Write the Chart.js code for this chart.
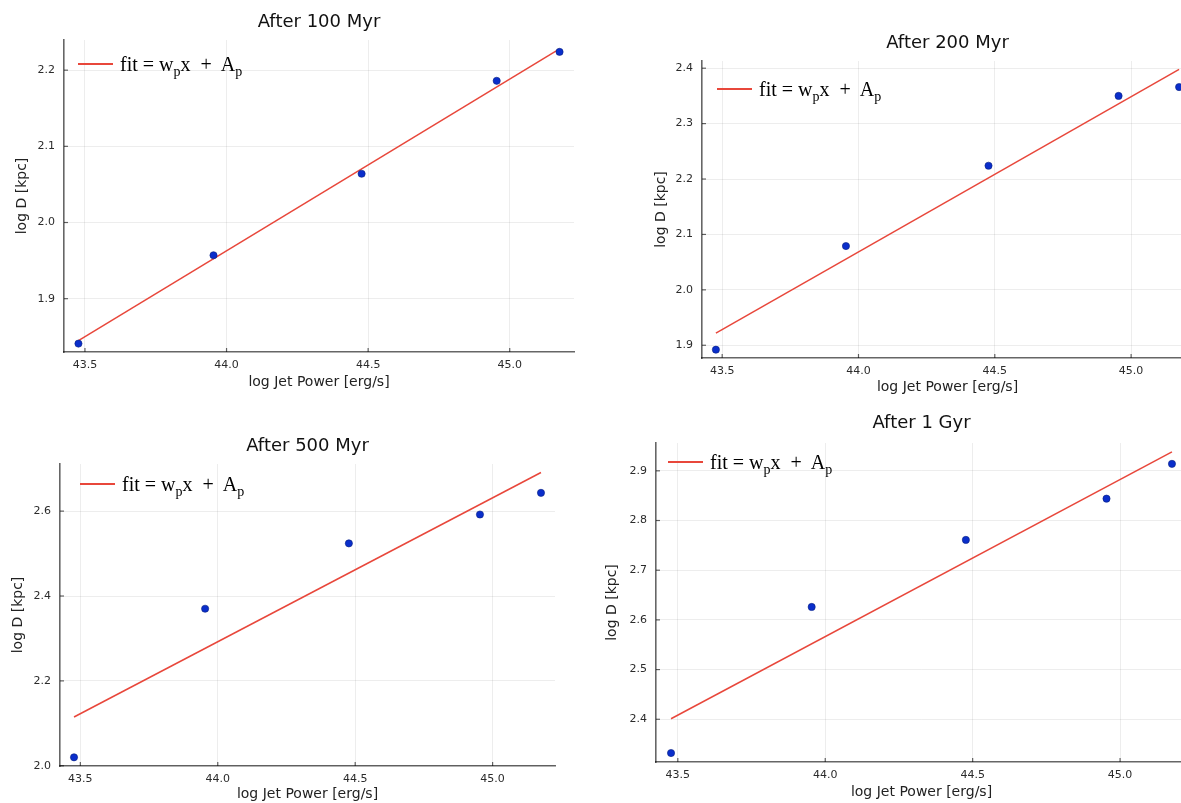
<!DOCTYPE html>
<html><head><meta charset="utf-8">
<script src="https://cdn.jsdelivr.net/npm/chart.js@4/dist/chart.umd.min.js"></script>
<style>
html,body{margin:0;padding:0;background:#fff;width:1181px;height:803px;overflow:hidden;position:relative}
canvas{position:absolute}
.leg{position:absolute;display:flex;align-items:center;transform:translateY(-50%);font-family:'Liberation Serif','Times New Roman',serif;font-size:20px;color:#000;white-space:pre;line-height:1}
.leg .ln{display:inline-block;width:35px;height:2px;background:#e8473b;margin-right:7px}
.leg sub{font-size:14px;vertical-align:-5px;line-height:0}
</style></head><body>
<canvas id="c0" width="640" height="400" style="left:0;top:0"></canvas>
<canvas id="c1" width="560" height="380" style="left:640px;top:20px"></canvas>
<canvas id="c2" width="640" height="383" style="left:0;top:420px"></canvas>
<canvas id="c3" width="600" height="403" style="left:600px;top:400px"></canvas>
<div class="leg" style="left:78px;top:64px"><span class="ln"></span><span>fit = w<sub>p</sub>x  +  A<sub>p</sub></span></div>
<div class="leg" style="left:717px;top:89px"><span class="ln"></span><span>fit = w<sub>p</sub>x  +  A<sub>p</sub></span></div>
<div class="leg" style="left:80px;top:484px"><span class="ln"></span><span>fit = w<sub>p</sub>x  +  A<sub>p</sub></span></div>
<div class="leg" style="left:668px;top:462px"><span class="ln"></span><span>fit = w<sub>p</sub>x  +  A<sub>p</sub></span></div>
<script>
// ---- data ----
const jetPower = [43.477, 43.954, 44.477, 44.954, 45.176];
const xTicks = [43.5, 44.0, 44.5, 45.0];
const titles = ['After 100 Myr', 'After 200 Myr', 'After 500 Myr', 'After 1 Gyr'];
const xLabel = 'log Jet Power [erg/s]';
const yLabel = 'log D [kpc]';

const dist100 = [1.841, 1.957, 2.064, 2.186, 2.224];
const dist200 = [1.892, 2.079, 2.224, 2.350, 2.366];
const dist500 = [2.020, 2.370, 2.524, 2.592, 2.643];
const dist1000 = [2.332, 2.626, 2.761, 2.844, 2.914];

// fit line values at the first and last jet power
const fit100 = [1.845, 2.228];
const fit200 = [1.922, 2.398];
const fit500 = [2.115, 2.691];
const fit1000 = [2.401, 2.938];

const yTicks100 = [1.9, 2.0, 2.1, 2.2];
const yTicks200 = [1.9, 2.0, 2.1, 2.2, 2.3, 2.4];
const yTicks500 = [2.0, 2.2, 2.4, 2.6];
const yTicks1000 = [2.4, 2.5, 2.6, 2.7, 2.8, 2.9];

const xRange = [43.426, 45.227];
const yRange100 = [1.830, 2.2396];
const yRange200 = [1.877, 2.413];
const yRange500 = [1.9995, 2.711];
const yRange1000 = [2.314, 2.956];

// ---- styles / layout ----
const AXIS = 'rgba(0,0,0,0.6)';
const GRID = 'rgba(0,0,0,0.07)';
const POINT = '#0a2ecb';
const LINE = '#e8473b';
const FONT = "'DejaVu Sans', sans-serif";

const panels = [
  {id:'c0', d:dist100, f:fit100, yt:yTicks100, yr:yRange100, yW:64, xH:48, padR:66, tPad:[11.2,7.2], xtB:9.6, ytT:14.2},
  {id:'c1', d:dist200, f:fit200, yt:yTicks200, yr:yRange200, yW:62, xH:42, padR:7, tPad:[12.2,7.2], xtB:4.6, ytT:13.1},
  {id:'c2', d:dist500, f:fit500, yt:yTicks500, yr:yRange500, yW:60, xH:37, padR:85, tPad:[15.2,7.2], xtB:0, ytT:10.2},
  {id:'c3', d:dist1000, f:fit1000, yt:yTicks1000, yr:yRange1000, yW:56, xH:41, padR:13, tPad:[12.2,9.2], xtB:2.6, ytT:3.6}
];

const inwardTicks = {
  id: 'inwardTicks',
  afterDraw(chart) {
    const ctx = chart.ctx, a = chart.chartArea;
    const xs = chart.scales.x, ys = chart.scales.y;
    ctx.save();
    ctx.strokeStyle = AXIS; ctx.lineWidth = 1.2;
    xs.ticks.forEach(t => { const p = xs.getPixelForValue(t.value); ctx.beginPath(); ctx.moveTo(p, a.bottom); ctx.lineTo(p, a.bottom - 4); ctx.stroke(); });
    ys.ticks.forEach(t => { const p = ys.getPixelForValue(t.value); ctx.beginPath(); ctx.moveTo(a.left, p); ctx.lineTo(a.left + 4, p); ctx.stroke(); });
    ctx.restore();
  }
};

panels.forEach((p, i) => {
  const pts = jetPower.map((x, k) => ({x: x, y: p.d[k]}));
  const fitPts = [{x: jetPower[0], y: p.f[0]}, {x: jetPower[jetPower.length - 1], y: p.f[1]}];
  new Chart(document.getElementById(p.id), {
    type: 'scatter',
    data: {datasets: [
      {label: 'data', data: pts, pointRadius: 3.6, pointBackgroundColor: POINT, pointBorderColor: '#08207f', pointBorderWidth: 0.6, showLine: false},
      {label: 'fit', data: fitPts, showLine: true, borderColor: LINE, borderWidth: 1.5, pointRadius: 0}
    ]},
    options: {
      responsive: false, animation: false, events: [],
      layout: {padding: {left: 0, right: p.padR, top: 0, bottom: 0}},
      plugins: {
        legend: {display: false}, tooltip: {enabled: false},
        title: {display: true, text: titles[i], fullSize: false, color: '#111',
          font: {family: FONT, size: 18, weight: 'normal'}, padding: {top: p.tPad[0], bottom: p.tPad[1]}}
      },
      scales: {
        x: {type: 'linear', min: xRange[0], max: xRange[1],
          afterBuildTicks: s => { s.ticks = xTicks.map(v => ({value: v})); },
          afterFit: s => { s.height = p.xH; },
          grid: {color: GRID, drawTicks: false, lineWidth: 1},
          border: {color: AXIS, width: 1.6},
          ticks: {padding: 7, color: '#2b2b2b', font: {family: FONT, size: 11}, callback: v => Number(v).toFixed(1), maxRotation: 0},
          title: {display: true, text: xLabel, color: '#222', font: {family: FONT, size: 14}, padding: {top: 0, bottom: p.xtB}}
        },
        y: {type: 'linear', min: p.yr[0], max: p.yr[1],
          afterBuildTicks: s => { s.ticks = p.yt.map(v => ({value: v})); },
          afterFit: s => { s.width = p.yW; },
          grid: {color: GRID, drawTicks: false, lineWidth: 1},
          border: {color: AXIS, width: 1.6},
          ticks: {padding: 9, color: '#2b2b2b', font: {family: FONT, size: 11}, callback: v => Number(v).toFixed(1)},
          title: {display: true, text: yLabel, color: '#222', font: {family: FONT, size: 14}, padding: {top: p.ytT, bottom: 0}}
        }
      }
    },
    plugins: [inwardTicks]
  });
});
</script>
</body></html>
